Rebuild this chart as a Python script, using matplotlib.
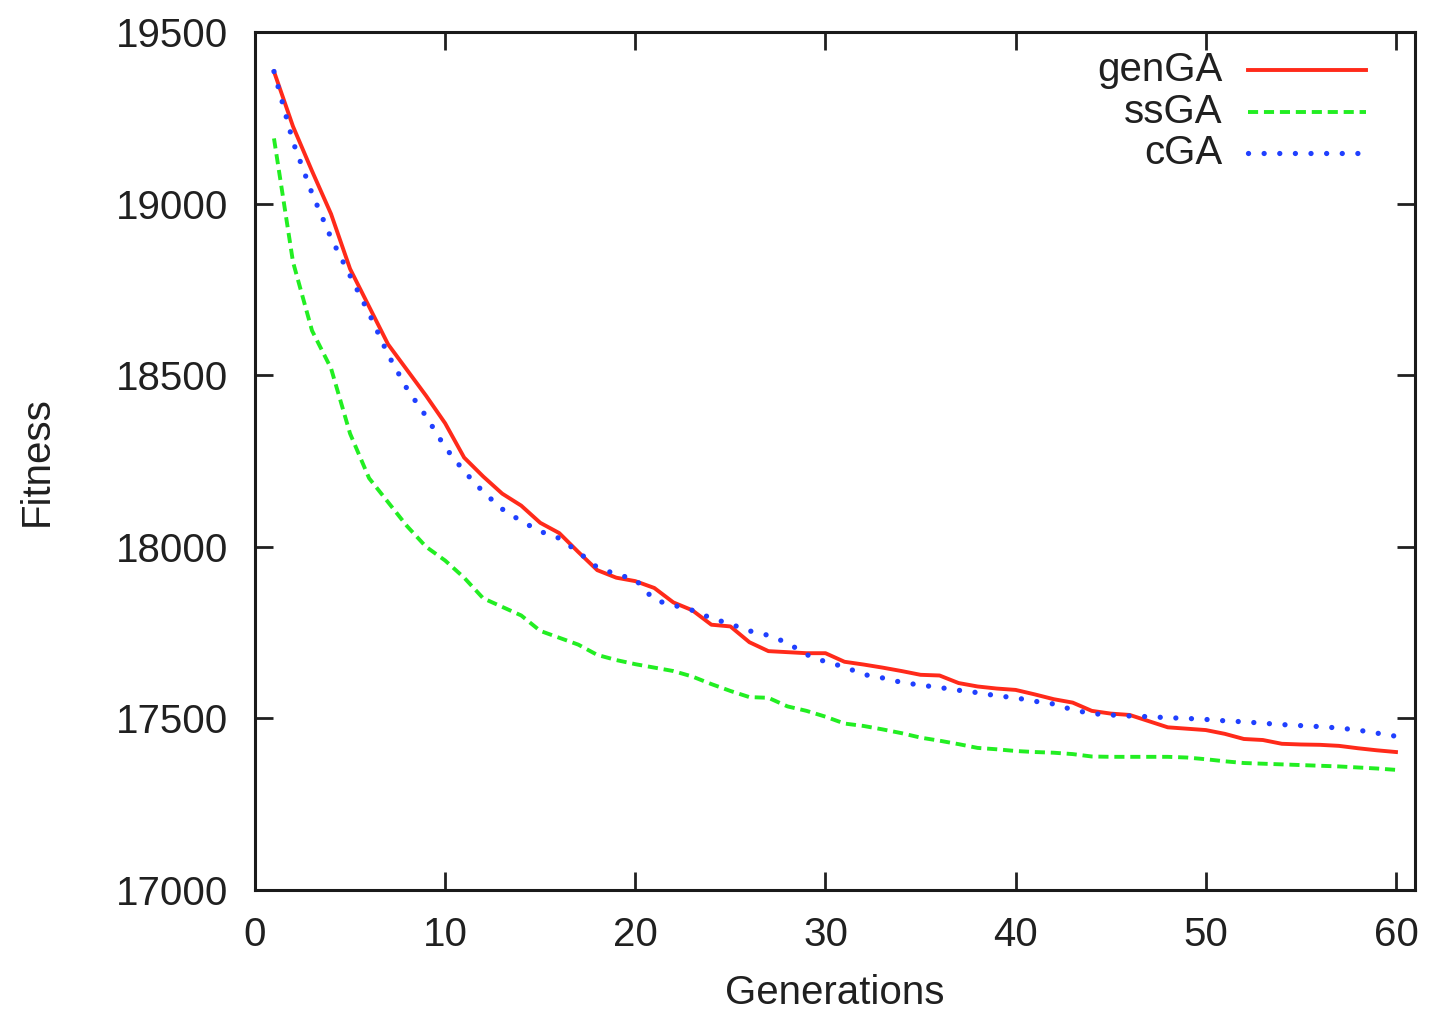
import matplotlib
matplotlib.use("Agg")
import matplotlib.pyplot as plt

generations = list(range(1, 61))

genGA = [19385, 19225, 19095, 18970, 18810, 18700, 18590, 18515, 18440, 18360,
         18260, 18205, 18155, 18120, 18070, 18040, 17985, 17932, 17910, 17900,
         17880, 17838, 17815, 17773, 17768, 17722, 17696, 17693, 17690, 17690,
         17665, 17657, 17648, 17638, 17627, 17625, 17603, 17593, 17587, 17583,
         17570, 17556, 17546, 17522, 17514, 17510, 17492, 17474, 17470, 17466,
         17455, 17440, 17437, 17426, 17424, 17423, 17420, 17413, 17407, 17402]

ssGA = [19190, 18830, 18630, 18520, 18330, 18200, 18130, 18060, 18000, 17960,
        17910, 17850, 17825, 17800, 17755, 17735, 17715, 17685, 17670, 17658,
        17648, 17638, 17622, 17600, 17580, 17562, 17560, 17535, 17522, 17505,
        17485, 17478, 17468, 17457, 17444, 17435, 17425, 17414, 17410, 17405,
        17402, 17400, 17396, 17389, 17388, 17388, 17388, 17388, 17386, 17381,
        17375, 17370, 17368, 17366, 17364, 17362, 17360, 17357, 17354, 17350]

cGA = [19385, 19180, 19030, 18900, 18790, 18680, 18560, 18460, 18380, 18290,
       18220, 18160, 18110, 18075, 18045, 18025, 17985, 17940, 17920, 17905,
       17845, 17830, 17815, 17792, 17775, 17755, 17742, 17720, 17686, 17665,
       17650, 17628, 17618, 17605, 17597, 17590, 17582, 17575, 17566, 17560,
       17550, 17542, 17525, 17514, 17510, 17507, 17505, 17502, 17500, 17497,
       17493, 17490, 17486, 17482, 17479, 17476, 17472, 17466, 17457, 17448]

series_names = ["genGA", "ssGA", "cGA"]
x_ticks = [0, 10, 20, 30, 40, 50, 60]
y_ticks = [17000, 17500, 18000, 18500, 19000, 19500]

plt.rcParams['font.family'] = ['Liberation Sans', 'DejaVu Sans']
FS = 29
TXT = '#202020'

fig = plt.figure(figsize=(14.3, 10.11), dpi=100)
ax = fig.add_axes([0.1783, 0.1197, 0.8112, 0.8486])

styles = [
    dict(color='#ff2a1a', lw=2.8, linestyle='-'),
    dict(color='#22ee22', lw=2.8, linestyle=(0, (2.6, 1.5))),
    dict(color='#2040ff', lw=3.8, linestyle=(0, (0.01, 2.95)), dash_capstyle='round'),
]

for name, data, st in zip(series_names, [genGA, ssGA, cGA], styles):
    ax.plot(generations, data, **st)

ax.set_xlim(0, 61)
ax.set_ylim(17000, 19500)
ax.set_xticks(x_ticks)
ax.set_yticks(y_ticks)
ax.tick_params(direction='in', length=13, width=2, top=True, right=True,
               labelsize=FS, colors=TXT)
ax.tick_params(axis='x', pad=19)
ax.tick_params(axis='y', pad=19)
for sp in ax.spines.values():
    sp.set_linewidth(2.2)
    sp.set_color('#1a1a1a')

ax.set_xlabel("Generations", fontsize=FS, color=TXT)
ax.set_ylabel("Fitness", fontsize=FS, color=TXT)
ax.xaxis.set_label_coords(0.5, -0.098)
ax.yaxis.set_label_coords(-0.172, 0.5)

# legend (gnuplot style: right-aligned labels, sample after text)
leg_y = [0.9557, 0.9068, 0.859]
for name, st, yy in zip(series_names, styles, leg_y):
    ax.plot([0.856, 0.958], [yy, yy], transform=ax.transAxes, **st)
    ax.text(0.834, yy, name, transform=ax.transAxes, ha='right', va='center',
            fontsize=FS, color=TXT)

fig.savefig("out.png", dpi=100)
